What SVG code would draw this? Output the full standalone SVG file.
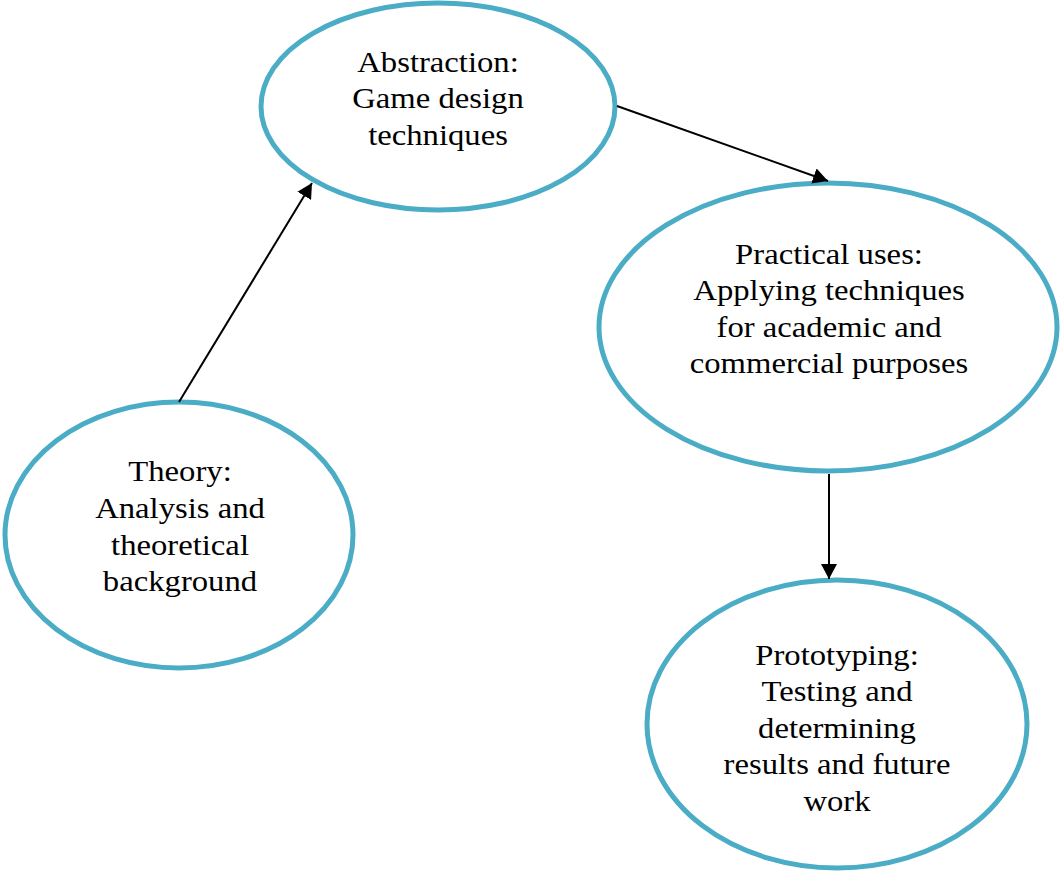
<svg xmlns="http://www.w3.org/2000/svg" width="1061" height="872" viewBox="0 0 1061 872">
<defs>
<style>
.node{fill:#fff;stroke:#4BACC6;stroke-width:5}
.lbl{font-family:"Liberation Serif","Times New Roman",serif;font-size:30px;fill:#000;text-anchor:middle}
.conn{stroke:#000;stroke-width:2;fill:none}
</style>
<marker id="ah" viewBox="0 0 15 16" refX="15" refY="8" markerWidth="15" markerHeight="16" markerUnits="userSpaceOnUse" orient="auto">
<path d="M0,0 L15,8 L0,16 Z" fill="#000"/>
</marker>
</defs>
<rect width="1061" height="872" fill="#fff"/>
<g id="abstraction">
<ellipse class="node" cx="438" cy="106.5" rx="177" ry="103.5"/>
<g transform="translate(438,0) scale(1.09,1)">
<text class="lbl" x="0" y="72">Abstraction:</text>
<text class="lbl" x="0" y="108">Game design</text>
<text class="lbl" x="0" y="145">techniques</text>
</g>
</g>
<g id="practical">
<ellipse class="node" cx="828" cy="327" rx="229" ry="144"/>
<g transform="translate(829,0) scale(1.09,1)">
<text class="lbl" x="0" y="264">Practical uses:</text>
<text class="lbl" x="0" y="300">Applying techniques</text>
<text class="lbl" x="0" y="337">for academic and</text>
<text class="lbl" x="0" y="373">commercial purposes</text>
</g>
</g>
<g id="theory">
<ellipse class="node" cx="179" cy="535" rx="174" ry="133"/>
<g transform="translate(180,0) scale(1.09,1)">
<text class="lbl" x="0" y="481">Theory:</text>
<text class="lbl" x="0" y="518">Analysis and</text>
<text class="lbl" x="0" y="555">theoretical</text>
<text class="lbl" x="0" y="591">background</text>
</g>
</g>
<g id="prototyping">
<ellipse class="node" cx="837" cy="724" rx="190" ry="144"/>
<g transform="translate(837,0) scale(1.09,1)">
<text class="lbl" x="0" y="665">Prototyping:</text>
<text class="lbl" x="0" y="701">Testing and</text>
<text class="lbl" x="0" y="738">determining</text>
<text class="lbl" x="0" y="774">results and future</text>
<text class="lbl" x="0" y="811">work</text>
</g>
</g>
<g id="connectors">
<line class="conn" x1="179" y1="402" x2="312" y2="183" marker-end="url(#ah)"/>
<line class="conn" x1="617" y1="106" x2="828" y2="181" marker-end="url(#ah)"/>
<line class="conn" x1="829" y1="474" x2="829" y2="579" marker-end="url(#ah)"/>
</g>
</svg>
